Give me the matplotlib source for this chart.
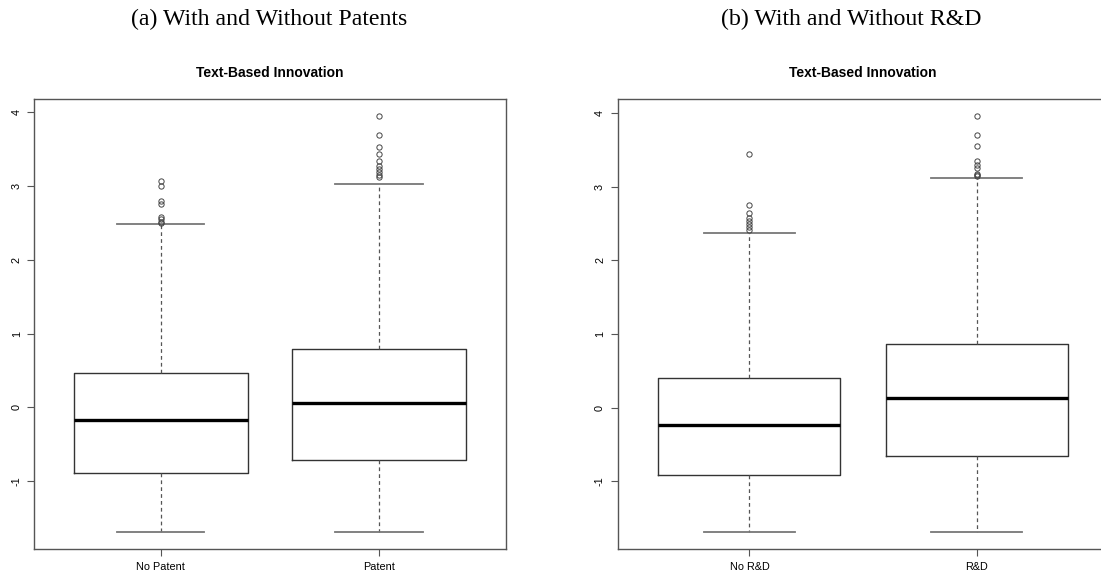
import matplotlib
matplotlib.use('Agg')
import matplotlib.pyplot as plt

# panel (a): with and without patents
labels_a = ['No Patent', 'Patent']
q1_a = [-0.889, -0.718]
med_a = [-0.176, 0.060]
q3_a = [0.466, 0.791]
lo_a = [-1.694, -1.694]
hi_a = [2.485, 3.031]
out_a = [[3.07, 3.00, 2.80, 2.76, 2.58, 2.55, 2.52, 2.50],
         [3.95, 3.69, 3.53, 3.44, 3.34, 3.28, 3.24, 3.19, 3.15, 3.12]]

# panel (b): with and without R&D
labels_b = ['No R&D', 'R&D']
q1_b = [-0.914, -0.652]
med_b = [-0.235, 0.132]
q3_b = [0.400, 0.861]
lo_b = [-1.694, -1.694]
hi_b = [2.370, 3.125]
out_b = [[3.45, 2.75, 2.64, 2.58, 2.53, 2.49, 2.45, 2.42],
         [3.96, 3.70, 3.55, 3.35, 3.29, 3.25, 3.17, 3.16, 3.15]]

W, H = 1101, 582


def draw_panel(ax, labels, q1, med, q3, lo, hi, out):
    stats = []
    for i in range(len(labels)):
        stats.append({'label': labels[i], 'q1': q1[i], 'med': med[i], 'q3': q3[i],
                      'whislo': lo[i], 'whishi': hi[i], 'fliers': out[i]})
    ax.bxp(stats, positions=[1, 2], widths=0.8, capwidths=0.4,
           boxprops=dict(color='#333333', lw=1.0),
           medianprops=dict(color='black', lw=2.4),
           whiskerprops=dict(color='#555555', lw=0.9, linestyle=(0, (3, 2.5))),
           capprops=dict(color='#777777', lw=1.3),
           flierprops=dict(marker='o', markerfacecolor='none', markeredgecolor='#444444',
                           markersize=3.8, markeredgewidth=0.7))
    # R style limits: 4% padding
    ymin = min(lo)
    ymax = max(max(o) for o in out)
    pad = (ymax - ymin) * 0.04
    ax.set_ylim(ymin - pad, ymax + pad)
    ax.set_xlim(0.42, 2.58)
    ax.set_xticks([1, 2])
    ax.set_xticklabels(labels)
    ax.set_yticks([-1, 0, 1, 2, 3, 4])
    ax.set_yticklabels(['-1', '0', '1', '2', '3', '4'], rotation=90, va='center')
    ax.tick_params(length=5, width=0.8, color='#555555', labelsize=7.8, pad=4)
    for s in ax.spines.values():
        s.set_color('#555555')
        s.set_linewidth(1.0)
    ax.set_title('Text-Based Innovation', fontsize=10, fontweight='bold', pad=16)


plt.rcParams['font.family'] = ['Liberation Sans', 'DejaVu Sans']
fig = plt.figure(figsize=(W / 100, H / 100), dpi=100)

top, bot = 99.5, 549.0
ax1 = fig.add_axes([34.3 / W, 1 - bot / H, (505.5 - 34.3) / W, (bot - top) / H])
ax2 = fig.add_axes([617.5 / W, 1 - bot / H, (1108.8 - 617.5) / W, (bot - top) / H])

draw_panel(ax1, labels_a, q1_a, med_a, q3_a, lo_a, hi_a, out_a)
draw_panel(ax2, labels_b, q1_b, med_b, q3_b, lo_b, hi_b, out_b)

fig.text(268.7 / W, 1 - 25 / H, '(a) With and Without Patents', ha='center', va='baseline',
         fontsize=17.2, family='Liberation Serif')
fig.text(851.7 / W, 1 - 25 / H, '(b) With and Without R&D', ha='center', va='baseline',
         fontsize=17.2, family='Liberation Serif')

fig.savefig('out.png', dpi=100)
